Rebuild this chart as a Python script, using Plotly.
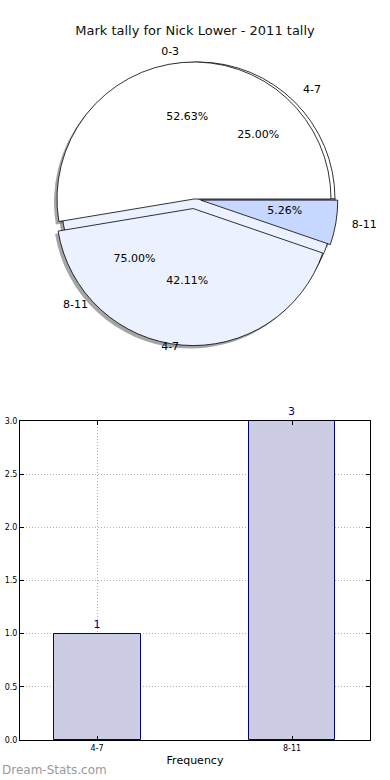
import plotly.graph_objects as go

# ---- data ----
title_text = "Mark tally for Nick Lower - 2011 tally"
pieA_labels = ["4-7", "8-11"]
pieA_values = [1, 3]
pieB_labels = ["0-3", "4-7", "8-11"]
pieB_values = [10, 8, 1]
bar_categories = ["4-7", "8-11"]
bar_values = [1, 3]
y_ticks = [0.0, 0.5, 1.0, 1.5, 2.0, 2.5, 3.0]

W, H = 390, 780
CX, CY, R = 194, 199, 137  # pie center / radius in px

pullA = [0.0, 0.0]
pullB = [0.0, 0.07, 0.05]


def pie_domain(maxpull, dx=0, dy=0, scale=1.0):
    half = R * scale * (1 + maxpull)
    cx, cy = CX + dx, CY + dy
    return dict(x=[(cx - half) / W, (cx + half) / W],
                y=[1 - (cy + half) / H, 1 - (cy - half) / H])


def start_rot(vals):
    # plotly counterclockwise: first slice ends at `rotation`; make it start at 3 o'clock
    return 90 - 360 * vals[0] / sum(vals)


common = dict(sort=False, direction="counterclockwise", automargin=False,
              hoverinfo="skip", showlegend=False)
line = dict(color="black", width=0.8)
txtfont = dict(family="DejaVu Sans", size=11, color="black")
clear = "rgba(0,0,0,0)"
shadow = "rgba(105,105,105,0.6)"

fig = go.Figure()


def fill_trace(labels, vals, pull, colors, lw, dx=0, dy=0):
    fig.add_trace(go.Pie(values=vals, labels=labels, pull=pull, rotation=start_rot(vals),
                         marker=dict(colors=colors, line=lw), textinfo="none",
                         domain=pie_domain(max(pull), dx, dy), **common))


def text_trace(labels, vals, pull, positions, template, scale):
    fig.add_trace(go.Pie(values=vals, labels=labels, pull=pull, rotation=start_rot(vals),
                         marker=dict(colors=[clear] * len(vals), line=dict(width=0)),
                         texttemplate=template, textposition=positions,
                         insidetextorientation="horizontal",
                         textfont=txtfont, outsidetextfont=txtfont,
                         domain=pie_domain(max(pull), scale=scale), **common))


# shadows (offset down-left)
fill_trace(pieA_labels, pieA_values, pullA, [shadow] * 2, dict(width=0), dx=1, dy=3)
fill_trace(pieB_labels, pieB_values, pullB, [shadow] * 3, dict(width=0), dx=-3, dy=3)
# pie A (underneath, slightly offset right)
fill_trace(pieA_labels, pieA_values, pullA, ["#ffffff", "#ebf1fe"], line, dx=4)
# pie B (on top)
fill_trace(pieB_labels, pieB_values, pullB, ["#ffffff", "#ebf1fe", "#c6d8ff"], line)

# percentages
pct = "%{percent:.2%}"
text_trace(pieB_labels, pieB_values, pullB, ["inside", "none", "none"], pct, 1.21)
text_trace(pieB_labels, pieB_values, pullB, ["none", "inside", "none"], pct, 1.03)
text_trace(pieB_labels, pieB_values, [0, 0, 0], ["none", "none", "outside"], pct, 71 / R)
text_trace(pieA_labels, pieA_values, pullA, ["inside", "none"], pct, 1.13)
text_trace(pieA_labels, pieA_values, pullA, ["none", "inside"], pct, 1.23)

# outside category labels
text_trace(pieA_labels, pieA_values, [0.03, 0.0], "outside", "%{label}", 1.06)
text_trace(pieB_labels, pieB_values, [0.0, 0.0, 0.11], "outside", "%{label}", 1.03)

# bar chart
fig.add_trace(go.Bar(x=bar_categories, y=bar_values, width=0.446,
                     marker=dict(color="#ccccE5", line=dict(color="#000080", width=1)),
                     text=[str(v) for v in bar_values], textposition="outside",
                     textfont=dict(family="DejaVu Sans", size=11, color="#000080"),
                     cliponaxis=False, hoverinfo="skip", showlegend=False))

axis_common = dict(showline=True, linecolor="black", linewidth=1, mirror="ticks",
                   ticks="inside", ticklen=4, tickcolor="black", automargin=False,
                   showgrid=True, gridcolor="#b0b0b0", griddash="1px,2px", gridwidth=1,
                   tickfont=dict(family="DejaVu Sans", size=8, color="black"),
                   zeroline=False)

fig.update_layout(
    width=W, height=H, autosize=False,
    margin=dict(l=0, r=0, t=0, b=0, autoexpand=False),
    paper_bgcolor="white", plot_bgcolor="white",
    font=dict(family="DejaVu Sans", color="black"),
    title=dict(text=title_text, x=0.5, xanchor="center", y=1 - 30 / H, yanchor="middle",
               font=dict(family="DejaVu Sans", size=13, color="#111")),
    xaxis=dict(domain=[20 / W, 370 / W], range=[-0.395, 1.4], type="category",
               title=dict(text="Frequency", font=dict(size=11), standoff=4),
               **axis_common),
    yaxis=dict(domain=[1 - 740 / H, 1 - 421 / H], range=[0, 3],
               tickvals=y_ticks, tickformat=".1f", **axis_common),
    bargap=0,
    annotations=[dict(text="Dream-Stats.com", x=0, y=1 - 770 / H, xref="paper", yref="paper",
                      xanchor="left", yanchor="middle", showarrow=False,
                      font=dict(family="DejaVu Sans", size=12, color="#9a9a9a"))],
)

fig.write_html("out.html", config={"displayModeBar": False},
               post_script="document.body.style.margin='0';document.body.style.overflow='hidden';")
